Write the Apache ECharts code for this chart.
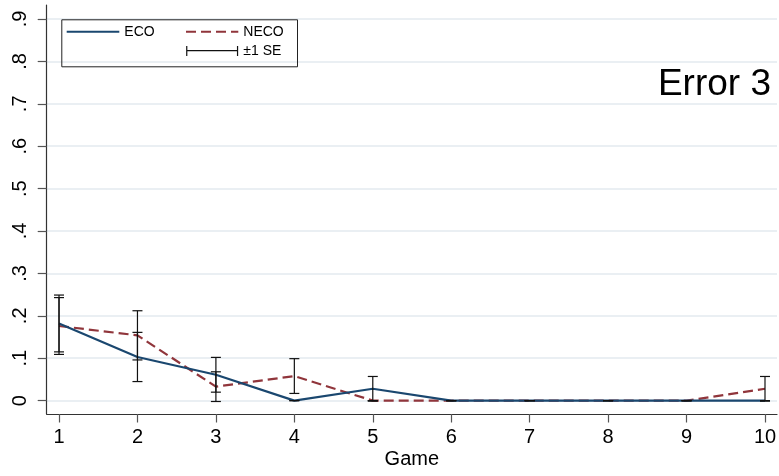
<!DOCTYPE html>
<html lang="en">
  <head>
    <meta charset="utf-8" />
    <title>Error 3</title>
    <script type="text/javascript" src="https://cdn.jsdelivr.net/npm/echarts@6/dist/echarts.min.js"></script>
    <style>
      html, body { margin: 0; padding: 0; background: #fff; }
      #chart { width: 779px; height: 476px; }
    </style>
  </head>
  <body>
    <div id="chart"></div>
    <script>
      // values
      var games = [1, 2, 3, 4, 5, 6, 7, 8, 9, 10]
      var eco = [0.182, 0.103, 0.061, 0, 0.028, 0, 0, 0, 0, 0]
      var neco = [0.176, 0.154, 0.033, 0.058, 0, 0, 0, 0, 0, 0.028]
      var ecoSe = [0.067, 0.058, 0.041, 0, 0.029, 0, 0, 0, 0, 0]
      var necoSe = [0.067, 0.058, 0.035, 0.041, 0, 0, 0, 0, 0, 0.029]
      var yTicks = [0, 0.1, 0.2, 0.3, 0.4, 0.5, 0.6, 0.7, 0.8, 0.9]

      var FONT = 'Liberation Sans, Arial, sans-serif'

      function pairs (ys) {
        return games.map(function (g, i) { return [g, ys[i]] })
      }
      function bars (ys, se) {
        return games.map(function (g, i) { return [g, ys[i] - se[i], ys[i] + se[i]] })
      }

      function renderBar (params, api) {
        var lo = api.coord([api.value(0), api.value(1)])
        var hi = api.coord([api.value(0), api.value(2)])
        var w = 5
        var style = { stroke: '#111', lineWidth: 1.2, fill: null }
        return {
          type: 'group',
          children: [
            { type: 'line', shape: { x1: lo[0], y1: lo[1], x2: hi[0], y2: hi[1] }, style: style },
            { type: 'line', shape: { x1: lo[0] - w, y1: lo[1], x2: lo[0] + w, y2: lo[1] }, style: style },
            { type: 'line', shape: { x1: hi[0] - w, y1: hi[1], x2: hi[0] + w, y2: hi[1] }, style: style }
          ]
        }
      }

      var chart = echarts.init(document.getElementById('chart'), null, { renderer: 'canvas' })
      chart.setOption({
        backgroundColor: '#fff',
        animation: false,
        textStyle: { fontFamily: FONT },
        title: {
          text: 'Error 3',
          right: 3,
          top: 61,
          textStyle: { fontFamily: FONT, fontSize: 37, fontWeight: 'normal', color: '#000' }
        },
        grid: { left: 46.7, right: 2, top: 5, bottom: 62, outerBoundsMode: 'none', containLabel: false },
        legend: [
          {
            data: [{ name: 'ECO', itemStyle: { opacity: 0 } }],
            left: 65.7,
            top: 24.7,
            padding: 0,
            itemWidth: 52.6,
            itemHeight: 10,
            textStyle: { fontFamily: FONT, fontSize: 14, color: '#000' }
          },
          {
            data: [
              { name: 'NECO', itemStyle: { opacity: 0 } },
              { name: '±1 SE', icon: 'path://M0,0L1.2,0L1.2,4L50.8,4L50.8,0L52,0L52,10L50.8,10L50.8,5.2L1.2,5.2L1.2,10L0,10Z', itemStyle: { color: '#111' } }
            ],
            orient: 'vertical',
            left: 185,
            top: 24.7,
            padding: 0,
            itemGap: 5.3,
            itemWidth: 52.3,
            itemHeight: 10,
            textStyle: { fontFamily: FONT, fontSize: 14, color: '#000' }
          }
        ],
        graphic: [
          {
            type: 'rect',
            left: 59.3,
            top: 17.3,
            shape: { width: 235.7, height: 47 },
            style: { fill: 'none', stroke: '#222', lineWidth: 1 },
            z: 1
          }
        ],
        xAxis: {
          type: 'value',
          min: 0.843,
          max: 10.153,
          name: 'Game',
          nameLocation: 'middle',
          nameGap: 35,
          nameMoveOverlap: false,
          nameTextStyle: { fontFamily: FONT, fontSize: 20, color: '#000' },
          axisLine: { onZero: false, lineStyle: { color: '#333', width: 1.2 } },
          axisTick: { customValues: games, length: 8.5, lineStyle: { color: '#555', width: 1.2 } },
          axisLabel: { customValues: games, margin: 13, fontSize: 20, color: '#000', fontFamily: FONT },
          splitLine: { show: false }
        },
        yAxis: {
          type: 'value',
          min: -0.0315,
          max: 0.933,
          axisLine: { show: true, onZero: false, lineStyle: { color: '#333', width: 1.2 } },
          axisTick: { show: true, customValues: yTicks, length: 9, lineStyle: { color: '#555', width: 1.2 } },
          axisLabel: {
            customValues: yTicks,
            rotate: 90,
            margin: 16,
            fontSize: 20,
            color: '#000',
            fontFamily: FONT,
            formatter: function (v) {
              return v === 0 ? '0' : String(+v.toFixed(1)).replace(/^0/, '')
            }
          },
          splitLine: { show: true, lineStyle: { color: '#e3eaef', width: 1.5 } }
        },
        series: [
          {
            name: 'ECO',
            type: 'line',
            data: pairs(eco),
            symbol: 'none',
            color: '#1a476f',
            lineStyle: { color: '#1a476f', width: 2.2 },
            z: 3
          },
          {
            name: 'NECO',
            type: 'line',
            data: pairs(neco),
            symbol: 'none',
            color: '#90353b',
            lineStyle: { color: '#90353b', width: 2.2, type: [10, 5] },
            z: 2
          },
          {
            name: '±1 SE',
            type: 'custom',
            data: bars(eco, ecoSe),
            renderItem: renderBar,
            color: '#111',
            encode: { x: 0, y: [1, 2] },
            z: 5
          },
          {
            name: '±1 SE',
            type: 'custom',
            data: bars(neco, necoSe),
            renderItem: renderBar,
            color: '#111',
            encode: { x: 0, y: [1, 2] },
            z: 5
          }
        ]
      })
    </script>
  </body>
</html>
